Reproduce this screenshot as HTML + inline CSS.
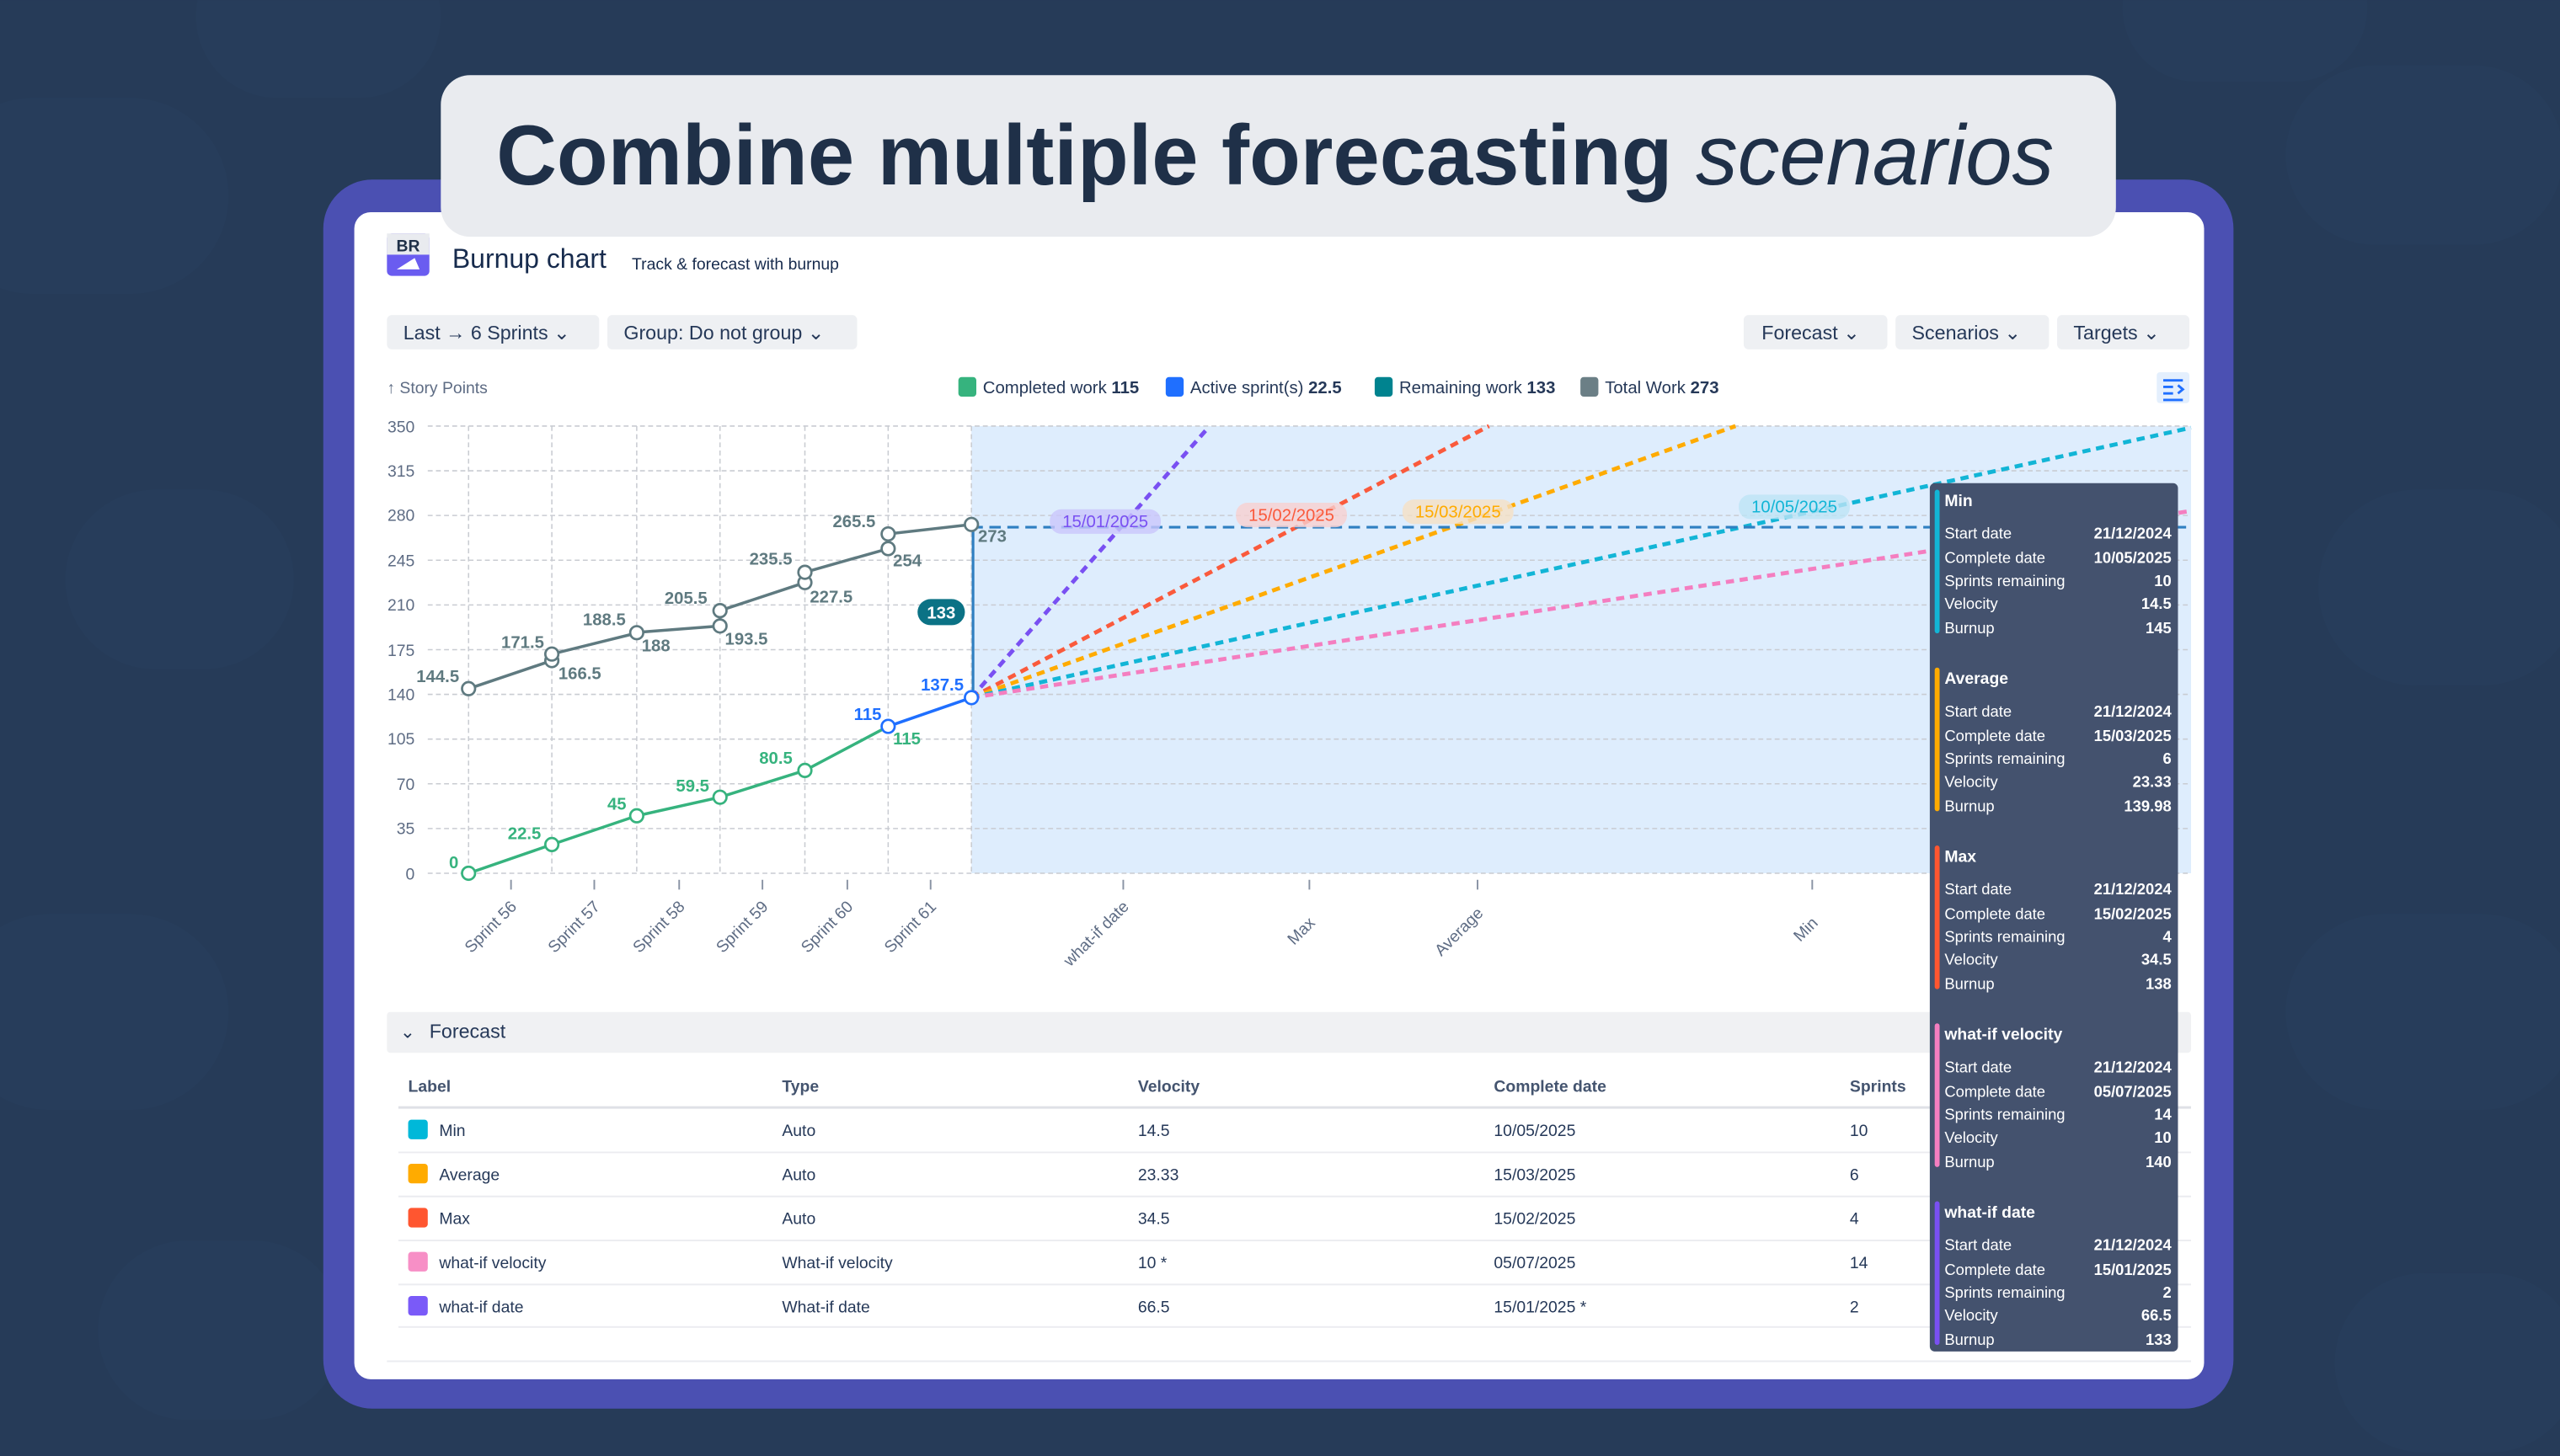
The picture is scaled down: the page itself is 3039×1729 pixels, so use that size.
<!DOCTYPE html>
<html><head><meta charset="utf-8"><style>
html,body{margin:0;padding:0;background:#253a57;overflow:hidden}
svg{display:block}
text{font-family:"Liberation Sans",sans-serif}
</style></head><body>
<svg width="3039" height="1729" viewBox="0 0 1568 892" xmlns="http://www.w3.org/2000/svg">
<rect width="1568" height="892" fill="#263b58"/>
<g fill="#2b4261" opacity="0.35">
<rect x="-40" y="60" width="180" height="120" rx="60"/><rect x="40" y="300" width="140" height="110" rx="55"/>
<rect x="-30" y="560" width="170" height="120" rx="60"/><rect x="60" y="760" width="150" height="110" rx="55"/>
<rect x="1400" y="40" width="170" height="110" rx="55"/><rect x="1420" y="300" width="160" height="120" rx="60"/>
<rect x="1400" y="560" width="180" height="120" rx="60"/><rect x="1430" y="780" width="150" height="110" rx="55"/>
<rect x="120" y="-40" width="150" height="100" rx="50"/><rect x="1300" y="-40" width="150" height="90" rx="45"/>
</g>
<rect x="198" y="110" width="1170" height="753" rx="30" fill="#4b50b2"/>
<rect x="217" y="130" width="1133" height="715" rx="10" fill="#ffffff"/>
<!-- title banner -->
<rect x="270" y="46" width="1026" height="99" rx="18" fill="#e9ebef"/>
<text x="781" y="113" text-anchor="middle" font-size="52" fill="#1f3048" textLength="954" lengthAdjust="spacingAndGlyphs"><tspan font-weight="bold">Combine multiple forecasting </tspan><tspan font-style="italic">scenarios</tspan></text>
<!-- header -->
<rect x="237" y="143" width="26" height="26" rx="3" fill="#6a5cf0"/>
<rect x="237" y="143" width="26" height="13" fill="#e9ebef"/>
<text x="250" y="154" text-anchor="middle" font-size="10" font-weight="bold" fill="#1f3048">BR</text>
<path d="M243 165 L257 165 L254 158 Z" fill="#fff"/>
<text x="277" y="164" font-size="16.5" fill="#172b4d">Burnup chart</text>
<text x="387" y="165" font-size="10" fill="#172b4d">Track &amp; forecast with burnup</text>
<g font-size="12" fill="#253858">
<rect x="237" y="193" width="130" height="21" rx="3" fill="#eef0f3"/><text x="247" y="208">Last → 6 Sprints  ⌄</text>
<rect x="372" y="193" width="153" height="21" rx="3" fill="#eef0f3"/><text x="382" y="208">Group: Do not group  ⌄</text>
<rect x="1068" y="193" width="88" height="21" rx="3" fill="#eef0f3"/><text x="1079" y="208">Forecast  ⌄</text>
<rect x="1161" y="193" width="94" height="21" rx="3" fill="#eef0f3"/><text x="1171" y="208">Scenarios  ⌄</text>
<rect x="1260" y="193" width="81" height="21" rx="3" fill="#eef0f3"/><text x="1270" y="208">Targets  ⌄</text>
</g>
<text x="237" y="241" font-size="10" fill="#5e6c84">↑ Story Points</text>
<g font-size="10.5" fill="#253858">
<rect x="587" y="231" width="11" height="12" rx="2" fill="#36b37e"/><text x="602" y="241">Completed work <tspan font-weight="bold">115</tspan></text>
<rect x="714" y="231" width="11" height="12" rx="2" fill="#1f6fff"/><text x="729" y="241">Active sprint(s) <tspan font-weight="bold">22.5</tspan></text>
<rect x="842" y="231" width="11" height="12" rx="2" fill="#00838f"/><text x="857" y="241">Remaining work <tspan font-weight="bold">133</tspan></text>
<rect x="968" y="231" width="11" height="12" rx="2" fill="#6b7f86"/><text x="983" y="241">Total Work <tspan font-weight="bold">273</tspan></text>
</g>
<rect x="1321" y="228" width="20" height="19" rx="2" fill="#e4effd"/>
<path d="M1325 233h12M1325 237h6M1325 241h6M1325 245h12M1334 236l3 2.5-3 2.5" stroke="#1f6fff" stroke-width="1.5" fill="none"/>
<!-- chart -->
<rect x="595" y="261" width="747" height="274" fill="#deedfd"/>
<g stroke="#c9ccd2" stroke-width="0.8" stroke-dasharray="3,2">
<line x1="262" y1="261" x2="1342" y2="261"/><line x1="262" y1="288.4" x2="1342" y2="288.4"/><line x1="262" y1="315.8" x2="1342" y2="315.8"/><line x1="262" y1="343.2" x2="1342" y2="343.2"/><line x1="262" y1="370.6" x2="1342" y2="370.6"/><line x1="262" y1="398" x2="1342" y2="398"/><line x1="262" y1="425.4" x2="1342" y2="425.4"/><line x1="262" y1="452.8" x2="1342" y2="452.8"/><line x1="262" y1="480.2" x2="1342" y2="480.2"/><line x1="262" y1="507.6" x2="1342" y2="507.6"/><line x1="262" y1="535" x2="1342" y2="535"/>
<line x1="287" y1="261" x2="287" y2="535"/><line x1="338" y1="261" x2="338" y2="535"/><line x1="390" y1="261" x2="390" y2="535"/><line x1="441" y1="261" x2="441" y2="535"/><line x1="493" y1="261" x2="493" y2="535"/><line x1="544" y1="261" x2="544" y2="535"/><line x1="595" y1="261" x2="595" y2="535"/>
</g>
<g font-size="10" fill="#5e6c84" text-anchor="end">
<text x="254" y="265">350</text><text x="254" y="292">315</text><text x="254" y="319">280</text><text x="254" y="347">245</text><text x="254" y="374">210</text><text x="254" y="402">175</text><text x="254" y="429">140</text><text x="254" y="456">105</text><text x="254" y="484">70</text><text x="254" y="511">35</text><text x="254" y="539">0</text>
</g>
<g stroke="#8993a4" stroke-width="1">
<line x1="313" y1="539" x2="313" y2="545"/><line x1="364" y1="539" x2="364" y2="545"/><line x1="416" y1="539" x2="416" y2="545"/><line x1="467" y1="539" x2="467" y2="545"/><line x1="519" y1="539" x2="519" y2="545"/><line x1="570" y1="539" x2="570" y2="545"/><line x1="688" y1="539" x2="688" y2="545"/><line x1="802" y1="539" x2="802" y2="545"/><line x1="905" y1="539" x2="905" y2="545"/><line x1="1110" y1="539" x2="1110" y2="545"/>
</g>
<g font-size="10" fill="#5e6c84" text-anchor="end">
<text transform="translate(317,556) rotate(-45)">Sprint 56</text>
<text transform="translate(368,556) rotate(-45)">Sprint 57</text>
<text transform="translate(420,556) rotate(-45)">Sprint 58</text>
<text transform="translate(471,556) rotate(-45)">Sprint 59</text>
<text transform="translate(523,556) rotate(-45)">Sprint 60</text>
<text transform="translate(574,556) rotate(-45)">Sprint 61</text>
<text transform="translate(692,556) rotate(-45)">what-if date</text>
<text transform="translate(806,566) rotate(-45)">Max</text>
<text transform="translate(909,560) rotate(-45)">Average</text>
<text transform="translate(1114,566) rotate(-45)">Min</text>
</g>
<!-- forecast lines -->
<g stroke-width="2.5" stroke-dasharray="5,3.5" fill="none">
<line x1="595" y1="427.4" x2="740" y2="262" stroke="#7950f2"/>
<line x1="595" y1="427.4" x2="912" y2="261" stroke="#fa5a3c"/>
<line x1="595" y1="427.4" x2="1063" y2="261" stroke="#ffab00"/>
<line x1="595" y1="427.4" x2="1342" y2="262" stroke="#12b5d6"/>
<line x1="595" y1="427.4" x2="1342" y2="313" stroke="#f47ec0"/>
</g>
<line x1="595" y1="323" x2="1342" y2="323" stroke="#2f7fc1" stroke-width="1.6" stroke-dasharray="7,4"/>
<g font-size="10.5">
<rect x="643" y="312" width="68" height="15" rx="7" fill="#c9c6fb" opacity="0.8"/><text x="677" y="323" text-anchor="middle" fill="#7950f2">15/01/2025</text>
<rect x="757" y="308" width="68" height="15" rx="7" fill="#f8cfcf" opacity="0.8"/><text x="791" y="319" text-anchor="middle" fill="#fa5a3c">15/02/2025</text>
<rect x="859" y="306" width="68" height="15" rx="7" fill="#f5e0c4" opacity="0.8"/><text x="893" y="317" text-anchor="middle" fill="#ffab00">15/03/2025</text>
<rect x="1065" y="303" width="68" height="15" rx="7" fill="#bde3f5" opacity="0.8"/><text x="1099" y="314" text-anchor="middle" fill="#12b5d6">10/05/2025</text>
</g>
<line x1="596" y1="322" x2="596" y2="427" stroke="#2f7fc1" stroke-width="1.6"/>
<rect x="562" y="367" width="29" height="16" rx="8" fill="#0b7285"/>
<text x="576.5" y="379" text-anchor="middle" font-size="10.5" font-weight="bold" fill="#fff">133</text>
<!-- total -->
<polyline points="287,421.9 338,404.7 338,400.7 390,387.8 390,387.4 441,383.5 441,374.1 493,356.9 493,350.6 544,336.1 544,327.1 595,321.3" fill="none" stroke="#5f7a80" stroke-width="1.8"/>
<g fill="#fff" stroke="#5f7a80" stroke-width="1.4">
<circle cx="287" cy="421.9" r="4"/><circle cx="338" cy="404.7" r="4"/><circle cx="338" cy="400.7" r="4"/><circle cx="390" cy="387.6" r="4"/><circle cx="441" cy="383.5" r="4"/><circle cx="441" cy="374.1" r="4"/><circle cx="493" cy="356.9" r="4"/><circle cx="493" cy="350.6" r="4"/><circle cx="544" cy="336.1" r="4"/><circle cx="544" cy="327.1" r="4"/><circle cx="595" cy="321.3" r="4"/>
</g>
<g font-size="10.5" font-weight="bold" fill="#5f7a80">
<text x="255" y="418">144.5</text><text x="307" y="397">171.5</text><text x="342" y="416">166.5</text><text x="357" y="383">188.5</text><text x="393" y="399">188</text><text x="407" y="370">205.5</text><text x="444" y="395">193.5</text><text x="459" y="346">235.5</text><text x="496" y="369">227.5</text><text x="510" y="323">265.5</text><text x="547" y="347">254</text><text x="599" y="332">273</text>
</g>
<!-- completed -->
<polyline points="287,535 338,517.4 390,499.8 441,488.4 493,472 544,445" fill="none" stroke="#36b37e" stroke-width="1.8"/>
<polyline points="544,445 595,427.4" fill="none" stroke="#1f6fff" stroke-width="1.8"/>
<g fill="#fff" stroke="#36b37e" stroke-width="1.4">
<circle cx="287" cy="535" r="4"/><circle cx="338" cy="517.4" r="4"/><circle cx="390" cy="499.8" r="4"/><circle cx="441" cy="488.4" r="4"/><circle cx="493" cy="472" r="4"/>
</g>
<circle cx="544" cy="445" r="4" fill="#fff" stroke="#1f6fff" stroke-width="1.4"/>
<circle cx="595" cy="427.4" r="4" fill="#fff" stroke="#1f6fff" stroke-width="1.4"/>
<g font-size="10.5" font-weight="bold" fill="#36b37e">
<text x="275" y="532">0</text><text x="311" y="514">22.5</text><text x="372" y="496">45</text><text x="414" y="485">59.5</text><text x="465" y="468">80.5</text><text x="547" y="456">115</text>
</g>
<g font-size="10.5" font-weight="bold" fill="#1f6fff"><text x="523" y="441">115</text><text x="564" y="423">137.5</text></g>
<!-- forecast table -->
<rect x="237" y="620" width="1105" height="25" rx="2" fill="#f0f1f3"/>
<text x="245" y="636" font-size="11" fill="#253858">⌄</text>
<text x="263" y="636" font-size="12" fill="#253858">Forecast</text>
<g font-size="10" fill="#253858">
<text x="250" y="669" font-weight="bold" fill="#44546f">Label</text><text x="479" y="669" font-weight="bold" fill="#44546f">Type</text><text x="697" y="669" font-weight="bold" fill="#44546f">Velocity</text><text x="915" y="669" font-weight="bold" fill="#44546f">Complete date</text><text x="1133" y="669" font-weight="bold" fill="#44546f">Sprints</text>
<line x1="244" y1="678.5" x2="1342" y2="678.5" stroke="#dfe1e6" stroke-width="1.5"/>
<rect x="250" y="686" width="12" height="12" rx="2" fill="#00b8d9"/><text x="269" y="696">Min</text><text x="479" y="696">Auto</text><text x="697" y="696">14.5</text><text x="915" y="696">10/05/2025</text><text x="1133" y="696">10</text>
<line x1="244" y1="706" x2="1342" y2="706" stroke="#ebecf0"/>
<rect x="250" y="713" width="12" height="12" rx="2" fill="#ffab00"/><text x="269" y="723">Average</text><text x="479" y="723">Auto</text><text x="697" y="723">23.33</text><text x="915" y="723">15/03/2025</text><text x="1133" y="723">6</text>
<line x1="244" y1="733" x2="1342" y2="733" stroke="#ebecf0"/>
<rect x="250" y="740" width="12" height="12" rx="2" fill="#ff5630"/><text x="269" y="750">Max</text><text x="479" y="750">Auto</text><text x="697" y="750">34.5</text><text x="915" y="750">15/02/2025</text><text x="1133" y="750">4</text>
<line x1="244" y1="760" x2="1342" y2="760" stroke="#ebecf0"/>
<rect x="250" y="767" width="12" height="12" rx="2" fill="#f78fc6"/><text x="269" y="777">what-if velocity</text><text x="479" y="777">What-if velocity</text><text x="697" y="777">10 *</text><text x="915" y="777">05/07/2025</text><text x="1133" y="777">14</text>
<line x1="244" y1="787" x2="1342" y2="787" stroke="#ebecf0"/>
<rect x="250" y="794" width="12" height="12" rx="2" fill="#7a5af8"/><text x="269" y="804">what-if date</text><text x="479" y="804">What-if date</text><text x="697" y="804">66.5</text><text x="915" y="804">15/01/2025 *</text><text x="1133" y="804">2</text>
<line x1="244" y1="813" x2="1342" y2="813" stroke="#ebecf0"/>
</g>
<line x1="237" y1="834" x2="1342" y2="834" stroke="#ebecf0"/>
<!-- tooltip -->
<rect x="1182" y="296" width="152" height="532" rx="3" fill="#44526e"/>
<g font-size="9.5" fill="#ffffff">
<g transform="translate(0,0)">
<rect x="1185" y="300" width="3" height="88" rx="1.5" fill="#12b5d6"/>
<text x="1191" y="310" font-weight="bold" font-size="10">Min</text>
<text x="1191" y="330">Start date</text><text x="1330" y="330" text-anchor="end" font-weight="bold">21/12/2024</text>
<text x="1191" y="345">Complete date</text><text x="1330" y="345" text-anchor="end" font-weight="bold">10/05/2025</text>
<text x="1191" y="359">Sprints remaining</text><text x="1330" y="359" text-anchor="end" font-weight="bold">10</text>
<text x="1191" y="373">Velocity</text><text x="1330" y="373" text-anchor="end" font-weight="bold">14.5</text>
<text x="1191" y="388">Burnup</text><text x="1330" y="388" text-anchor="end" font-weight="bold">145</text>
</g>
<g transform="translate(0,109)">
<rect x="1185" y="300" width="3" height="88" rx="1.5" fill="#ffab00"/>
<text x="1191" y="310" font-weight="bold" font-size="10">Average</text>
<text x="1191" y="330">Start date</text><text x="1330" y="330" text-anchor="end" font-weight="bold">21/12/2024</text>
<text x="1191" y="345">Complete date</text><text x="1330" y="345" text-anchor="end" font-weight="bold">15/03/2025</text>
<text x="1191" y="359">Sprints remaining</text><text x="1330" y="359" text-anchor="end" font-weight="bold">6</text>
<text x="1191" y="373">Velocity</text><text x="1330" y="373" text-anchor="end" font-weight="bold">23.33</text>
<text x="1191" y="388">Burnup</text><text x="1330" y="388" text-anchor="end" font-weight="bold">139.98</text>
</g>
<g transform="translate(0,218)">
<rect x="1185" y="300" width="3" height="88" rx="1.5" fill="#ff5630"/>
<text x="1191" y="310" font-weight="bold" font-size="10">Max</text>
<text x="1191" y="330">Start date</text><text x="1330" y="330" text-anchor="end" font-weight="bold">21/12/2024</text>
<text x="1191" y="345">Complete date</text><text x="1330" y="345" text-anchor="end" font-weight="bold">15/02/2025</text>
<text x="1191" y="359">Sprints remaining</text><text x="1330" y="359" text-anchor="end" font-weight="bold">4</text>
<text x="1191" y="373">Velocity</text><text x="1330" y="373" text-anchor="end" font-weight="bold">34.5</text>
<text x="1191" y="388">Burnup</text><text x="1330" y="388" text-anchor="end" font-weight="bold">138</text>
</g>
<g transform="translate(0,327)">
<rect x="1185" y="300" width="3" height="88" rx="1.5" fill="#f47ec0"/>
<text x="1191" y="310" font-weight="bold" font-size="10">what-if velocity</text>
<text x="1191" y="330">Start date</text><text x="1330" y="330" text-anchor="end" font-weight="bold">21/12/2024</text>
<text x="1191" y="345">Complete date</text><text x="1330" y="345" text-anchor="end" font-weight="bold">05/07/2025</text>
<text x="1191" y="359">Sprints remaining</text><text x="1330" y="359" text-anchor="end" font-weight="bold">14</text>
<text x="1191" y="373">Velocity</text><text x="1330" y="373" text-anchor="end" font-weight="bold">10</text>
<text x="1191" y="388">Burnup</text><text x="1330" y="388" text-anchor="end" font-weight="bold">140</text>
</g>
<g transform="translate(0,436)">
<rect x="1185" y="300" width="3" height="88" rx="1.5" fill="#7950f2"/>
<text x="1191" y="310" font-weight="bold" font-size="10">what-if date</text>
<text x="1191" y="330">Start date</text><text x="1330" y="330" text-anchor="end" font-weight="bold">21/12/2024</text>
<text x="1191" y="345">Complete date</text><text x="1330" y="345" text-anchor="end" font-weight="bold">15/01/2025</text>
<text x="1191" y="359">Sprints remaining</text><text x="1330" y="359" text-anchor="end" font-weight="bold">2</text>
<text x="1191" y="373">Velocity</text><text x="1330" y="373" text-anchor="end" font-weight="bold">66.5</text>
<text x="1191" y="388">Burnup</text><text x="1330" y="388" text-anchor="end" font-weight="bold">133</text>
</g>
</g>
</svg>
</body></html>
